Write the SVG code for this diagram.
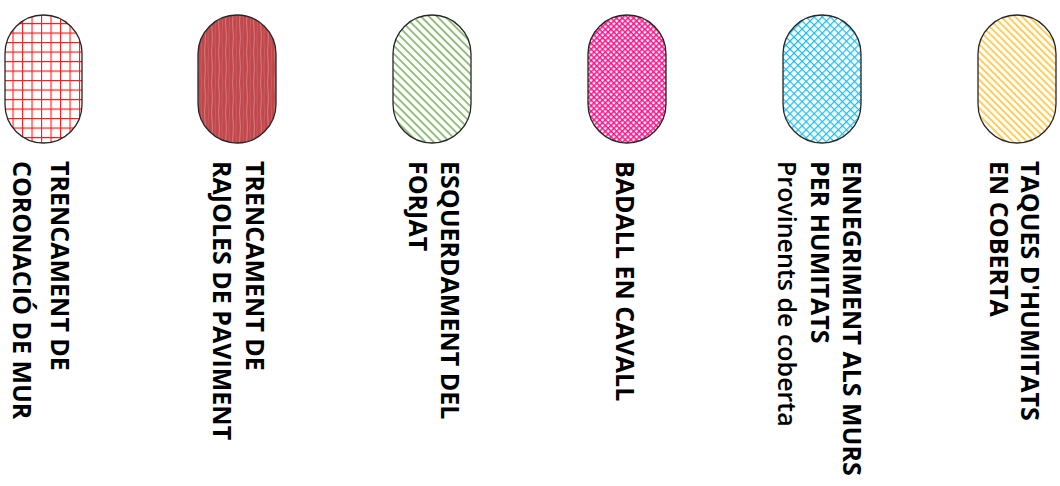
<svg xmlns="http://www.w3.org/2000/svg" width="1060" height="486" viewBox="0 0 1060 486">
<style>
.cap{stroke:#262626;stroke-width:1.3}
.lbl{font-family:"Open Sans","Noto Sans","Liberation Sans",sans-serif;font-weight:bold;font-size:25px;fill:#000}
.sub{font-weight:600}
</style>
<defs>
<pattern id="pRed" patternUnits="userSpaceOnUse" width="9.5" height="9.5" x="3" y="4">
<rect width="9.5" height="9.5" fill="#fff"/>
<path d="M0 0.5H9.5M0.5 0V9.5" stroke="#ff1a1a" stroke-width="1.2"/>
</pattern>
<pattern id="pBrick" patternUnits="userSpaceOnUse" width="7" height="30">
<rect width="7" height="30" fill="#c0474b"/>
<path d="M2 0 Q2.8 7.5 2 15 Q1.2 22.5 2 30" stroke="#e59a9c" stroke-width="0.8" fill="none" opacity="0.8"/>
<path d="M5.2 0 Q4.6 10 5.3 18 Q5.8 25 5.2 30" stroke="#d87b7e" stroke-width="0.6" fill="none" opacity="0.7"/>
</pattern>
<pattern id="pGreen" patternUnits="userSpaceOnUse" width="5.7" height="10" patternTransform="rotate(-45)">
<rect width="5.7" height="10" fill="#fff"/>
<path d="M1 0V10" stroke="#5ea13c" stroke-width="1.3"/>
</pattern>
<pattern id="pPink" patternUnits="userSpaceOnUse" width="4" height="4" patternTransform="rotate(45)">
<rect width="4" height="4" fill="#fff"/>
<path d="M0 0.8H4M0.8 0V4" stroke="#ff0f88" stroke-width="1.5"/>
</pattern>
<pattern id="pCyan" patternUnits="userSpaceOnUse" width="5.7" height="5.7" patternTransform="rotate(45)">
<rect width="5.7" height="5.7" fill="#fff"/>
<path d="M0 0.6H5.7M0.6 0V5.7" stroke="#19bff2" stroke-width="1.3"/>
</pattern>
<pattern id="pYellow" patternUnits="userSpaceOnUse" width="5" height="10" patternTransform="rotate(-45)">
<rect width="5" height="10" fill="#fff"/>
<path d="M1 0V10" stroke="#ffb300" stroke-width="1.3"/>
</pattern>
</defs>
<g id="node1">
<rect class="cap" x="5" y="15" width="77" height="128" rx="38.5" fill="url(#pRed)"/>
<text class="lbl" transform="translate(51,161) rotate(90)">TRENCAMENT DE</text>
<text class="lbl" transform="translate(13,161) rotate(90)">CORONACIÓ DE MUR</text>
</g>
<g id="node2">
<rect class="cap" x="198" y="15" width="78" height="128" rx="39" fill="url(#pBrick)"/>
<text class="lbl" transform="translate(246,161) rotate(90)">TRENCAMENT DE</text>
<text class="lbl" transform="translate(213,161) rotate(90)">RAJOLES DE PAVIMENT</text>
</g>
<g id="node3">
<rect class="cap" x="393" y="15" width="78" height="128" rx="39" fill="url(#pGreen)"/>
<text class="lbl" transform="translate(441,161) rotate(90)">ESQUERDAMENT DEL</text>
<text class="lbl" transform="translate(409,161) rotate(90)">FORJAT</text>
</g>
<g id="node4">
<rect class="cap" x="588" y="15" width="78" height="128" rx="39" fill="url(#pPink)"/>
<text class="lbl" transform="translate(616,161) rotate(90)">BADALL EN CAVALL</text>
</g>
<g id="node5">
<rect class="cap" x="783" y="15" width="78" height="128" rx="39" fill="url(#pCyan)"/>
<text class="lbl" transform="translate(843,161) rotate(90)">ENNEGRIMENT ALS MURS</text>
<text class="lbl" transform="translate(811,161) rotate(90)">PER HUMITATS</text>
<text class="lbl sub" transform="translate(778,161) rotate(90)">Provinents de coberta</text>
</g>
<g id="node6">
<rect class="cap" x="978" y="15" width="78" height="128" rx="39" fill="url(#pYellow)"/>
<text class="lbl" transform="translate(1021,161) rotate(90)">TAQUES D'HUMITATS</text>
<text class="lbl" transform="translate(990,161) rotate(90)">EN COBERTA</text>
</g>
<g id="connectors"/>
</svg>
